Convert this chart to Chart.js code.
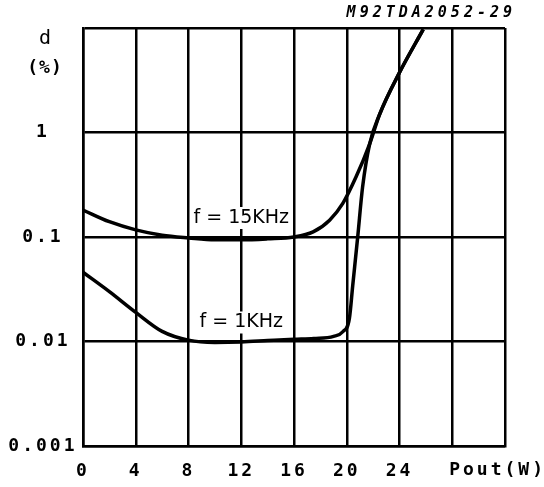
<!DOCTYPE html>
<html>
<head>
<meta charset="utf-8">
<script src="https://cdn.jsdelivr.net/npm/chart.js@4"></script>
<style>
  html, body { margin: 0; padding: 0; background: #fff; }
  #wrap { width: 544px; height: 487px; }
</style>
</head>
<body>
<div id="wrap"><canvas id="thdChart" width="544" height="487"></canvas></div>
<script>
// THD vs output power
const pout15 = [0, 2, 4, 6, 8, 10, 12, 14, 16, 17.45, 18.7, 19.7, 20.7, 21.74, 22.5, 24, 25.8]
const thd15  = [0.181, 0.14, 0.117, 0.104, 0.098, 0.094, 0.094, 0.096, 0.1, 0.112, 0.145, 0.21, 0.375, 0.78, 1.5, 3.75, 9.7]

const pout1  = [0, 2, 4, 6, 8, 10, 12, 14, 16, 17.5, 19, 19.7, 20.2, 20.45, 20.83, 21.2, 21.74, 22.5, 24, 25.8]
const thd1   = [0.046, 0.030, 0.019, 0.0125, 0.0103, 0.0098, 0.0099, 0.0102, 0.0105, 0.0107, 0.0112, 0.0124, 0.0166, 0.034, 0.1, 0.3, 0.78, 1.5, 3.75, 9.7]

const xTicks = [0, 4, 8, 12, 16, 20, 24, 28, 32]
const xLabels = ['0', '4', '8', '12', '16', '20', '24', '', '']
const yTicks = [0.001, 0.01, 0.1, 1, 10]
const yLabels = ['0.001', '0.01', '0.1', '1', '']

const curveLabels = [
  { text: 'f = 15KHz', x: 12, y: 0.152 },
  { text: 'f = 1KHz',  x: 12, y: 0.0152 }
]

const toPts = (xs, ys) => xs.map((x, i) => ({ x, y: ys[i] }))

const tickFont = { family: 'DejaVu Sans Mono', size: 18, weight: 'bold' }

const annotate = {
  id: 'annotate',
  beforeDraw(chart) {
    // plotter-style wide lettering for the axis ticks
    chart.ctx.letterSpacing = '3px'
  },
  afterDatasetsDraw(chart) {
    const { ctx, scales: { x, y } } = chart
    ctx.save()
    ctx.letterSpacing = '0px'
    ctx.font = '19px "DejaVu Sans"'
    ctx.textAlign = 'center'
    ctx.textBaseline = 'middle'
    curveLabels.forEach(l => {
      const px = x.getPixelForValue(l.x), py = y.getPixelForValue(l.y)
      const w = ctx.measureText(l.text).width
      ctx.fillStyle = '#fff'
      ctx.fillRect(px - w / 2 - 3, py - 11, w + 6, 22)
      ctx.fillStyle = '#000'
      ctx.fillText(l.text, px, py)
    })
    ctx.restore()
  },
  afterDraw(chart) {
    const { ctx } = chart
    ctx.save()
    ctx.fillStyle = '#000'
    ctx.textBaseline = 'middle'
    ctx.letterSpacing = '0px'
    ctx.font = '20px "DejaVu Sans Mono"'
    ctx.textAlign = 'center'
    ctx.fillText('d', 45, 39)
    ctx.font = 'bold 18px "DejaVu Sans Mono"'
    ctx.letterSpacing = '1px'
    ctx.fillText('(%)', 45, 68)
    ctx.letterSpacing = '3px'
    ctx.textAlign = 'right'
    ctx.fillText('Pout(W)', 546, 470)
    ctx.font = 'italic bold 15px "DejaVu Sans Mono"'
    ctx.letterSpacing = '4px'
    ctx.fillText('M92TDA2052-29', 516, 13)
    ctx.restore()
    ctx.letterSpacing = '0px'
  }
}

new Chart(document.getElementById('thdChart').getContext('2d'), {
  type: 'line',
  data: {
    datasets: [
      { label: 'f = 15KHz', data: toPts(pout15, thd15) },
      { label: 'f = 1KHz',  data: toPts(pout1, thd1) }
    ]
  },
  options: {
    responsive: false,
    animation: false,
    events: [],
    layout: { padding: { top: 28, right: 39, left: 0, bottom: 0 } },
    elements: {
      line: { borderColor: '#000', borderWidth: 3.5, cubicInterpolationMode: 'monotone', fill: false },
      point: { radius: 0 }
    },
    plugins: { legend: { display: false }, tooltip: { enabled: false } },
    scales: {
      x: {
        type: 'linear',
        min: 0, max: 32,
        afterBuildTicks: s => { s.ticks = xTicks.map(v => ({ value: v })) },
        afterFit: s => { s.height = 41 },
        ticks: {
          color: '#000', font: tickFont, padding: 15, maxRotation: 0,
          callback: v => xLabels[xTicks.indexOf(v)] ?? ''
        },
        grid: { color: '#000', lineWidth: 2.5, drawTicks: false },
        border: { color: '#000', width: 2.5 }
      },
      y: {
        type: 'logarithmic',
        min: 0.001, max: 10,
        afterBuildTicks: s => { s.ticks = yTicks.map(v => ({ value: v, major: true })) },
        afterFit: s => { s.width = 83 },
        ticks: {
          color: '#000', font: tickFont, padding: 13, crossAlign: 'center',
          callback: v => yLabels[yTicks.indexOf(v)] ?? ''
        },
        grid: { color: '#000', lineWidth: 2.5, drawTicks: false },
        border: { color: '#000', width: 2.5 }
      }
    }
  },
  plugins: [annotate]
})
</script>
</body>
</html>
